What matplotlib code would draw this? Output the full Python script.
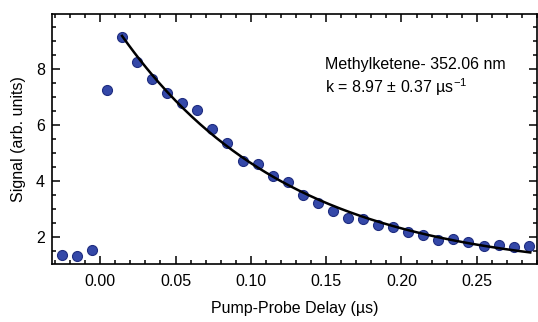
import numpy as np
import matplotlib
matplotlib.use("Agg")
import matplotlib.pyplot as plt
from matplotlib.ticker import MultipleLocator, FormatStrFormatter

plt.rcParams['font.family'] = ['Liberation Sans', 'DejaVu Sans']

# Pump-probe delay (us) and signal (arb. units)
delay = -0.0255 + 0.01 * np.arange(32)
signal = [1.35, 1.30, 1.52, 7.23, 9.15, 8.24, 7.64, 7.15, 6.77, 6.51,
          5.85, 5.35, 4.71, 4.58, 4.15, 3.94, 3.50, 3.20, 2.90, 2.67,
          2.63, 2.40, 2.33, 2.17, 2.06, 1.89, 1.92, 1.81, 1.65, 1.71,
          1.62, 1.65]
signal = np.array(signal)

# decay constant from the annotation; amplitude and offset fitted to the data
k = 8.97
fit_start = 4
t0 = delay[fit_start]
tt = delay[fit_start:]
M = np.column_stack([np.exp(-k * (tt - t0)), np.ones_like(tt)])
(amp, offset), *_ = np.linalg.lstsq(M, signal[fit_start:], rcond=None)
t_fit = np.linspace(t0, 0.2855, 200)
y_fit = amp * np.exp(-k * (t_fit - t0)) + offset

fs = 11.5
fig = plt.figure(figsize=(5.38, 3.22), dpi=100)
ax = fig.add_axes([52 / 538, 1 - 264 / 322, 485 / 538, 250 / 322])

ax.plot(delay, signal, 'o', ms=7.2, mfc='#3448a8', mec='#1f2d80', mew=0.8, zorder=2)
ax.plot(t_fit, y_fit, color='black', lw=1.8, zorder=3)

ax.set_xlim(-0.032, 0.290)
ax.set_ylim(1.02, 9.96)
ax.xaxis.set_major_locator(MultipleLocator(0.05))
ax.xaxis.set_minor_locator(MultipleLocator(0.01))
ax.yaxis.set_major_locator(MultipleLocator(2))
ax.yaxis.set_minor_locator(MultipleLocator(0.5))
ax.xaxis.set_major_formatter(FormatStrFormatter('%.2f'))

ax.tick_params(which='both', direction='in', top=True, right=True,
               labelsize=fs, width=1.1)
ax.tick_params(which='major', length=6)
ax.tick_params(which='minor', length=3)
ax.tick_params(axis='x', pad=7)
ax.tick_params(axis='y', pad=5)
for s in ax.spines.values():
    s.set_linewidth(1.2)

ax.set_xlabel('Pump-Probe Delay (µs)', fontsize=fs, labelpad=9)
ax.set_ylabel('Signal (arb. units)', fontsize=fs, labelpad=7)

ax.text(0.563, 0.78, 'Methylketene- 352.06 nm', transform=ax.transAxes,
        fontsize=fs, va='baseline')
ax.text(0.563, 0.685, 'k = 8.97 ± 0.37 µs$^{\\mathregular{-1}}$', transform=ax.transAxes,
        fontsize=fs, va='baseline')

fig.savefig('out.png', dpi=100)
